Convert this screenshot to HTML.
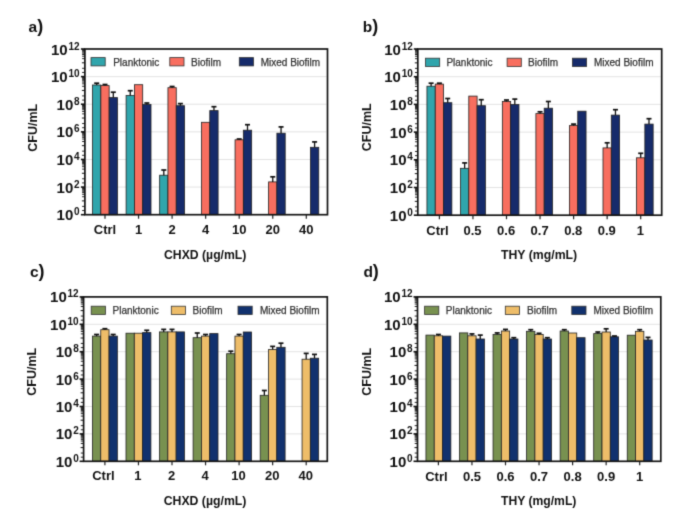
<!DOCTYPE html>
<html><head><meta charset="utf-8"><style>
html,body{margin:0;padding:0;background:#fff;}
svg{display:block;font-family:"Liberation Sans", sans-serif;}
</style></head><body><div id="w">
<svg width="685" height="532" viewBox="0 0 685 532">
<defs><filter id="bl" x="0" y="0" width="685" height="532" filterUnits="userSpaceOnUse" color-interpolation-filters="sRGB"><feConvolveMatrix order="3" kernelMatrix="0.01917 0.10012 0.01917 0.10012 0.52283 0.10012 0.01917 0.10012 0.01917" divisor="1" edgeMode="duplicate" preserveAlpha="true"/></filter></defs>
<g filter="url(#bl)">
<rect width="685" height="532" fill="#fff"/>
<line x1="85.9" y1="187.08" x2="326.5" y2="187.08" stroke="#e3e3e3" stroke-width="1"/>
<line x1="85.9" y1="159.47" x2="326.5" y2="159.47" stroke="#e3e3e3" stroke-width="1"/>
<line x1="85.9" y1="131.85" x2="326.5" y2="131.85" stroke="#e3e3e3" stroke-width="1"/>
<line x1="85.9" y1="104.23" x2="326.5" y2="104.23" stroke="#e3e3e3" stroke-width="1"/>
<line x1="85.9" y1="76.62" x2="326.5" y2="76.62" stroke="#e3e3e3" stroke-width="1"/>
<rect x="92.55" y="85.00" width="8.3" height="129.70" fill="#30a5ac" stroke="#222" stroke-width="0.8"/>
<line x1="96.70" y1="83.20" x2="96.70" y2="85.00" stroke="#111" stroke-width="1.3"/>
<line x1="94.20" y1="83.20" x2="99.20" y2="83.20" stroke="#111" stroke-width="1.7"/>
<rect x="100.85" y="85.60" width="8.3" height="129.10" fill="#f86e5f" stroke="#222" stroke-width="0.8"/>
<line x1="105.00" y1="84.50" x2="105.00" y2="85.60" stroke="#111" stroke-width="1.3"/>
<line x1="102.50" y1="84.50" x2="107.50" y2="84.50" stroke="#111" stroke-width="1.7"/>
<rect x="109.15" y="97.60" width="8.3" height="117.10" fill="#162b6b" stroke="#222" stroke-width="0.8"/>
<line x1="113.30" y1="92.20" x2="113.30" y2="97.60" stroke="#111" stroke-width="1.3"/>
<line x1="110.80" y1="92.20" x2="115.80" y2="92.20" stroke="#111" stroke-width="1.7"/>
<line x1="105.00" y1="214.7" x2="105.00" y2="218.7" stroke="#222" stroke-width="1.2"/>
<text x="105.00" y="233.90" font-size="13" font-weight="bold" text-anchor="middle" fill="#111">Ctrl</text>
<rect x="126.10" y="95.50" width="8.3" height="119.20" fill="#30a5ac" stroke="#222" stroke-width="0.8"/>
<line x1="130.25" y1="90.70" x2="130.25" y2="95.50" stroke="#111" stroke-width="1.3"/>
<line x1="127.75" y1="90.70" x2="132.75" y2="90.70" stroke="#111" stroke-width="1.7"/>
<rect x="134.40" y="84.70" width="8.3" height="130.00" fill="#f86e5f" stroke="#222" stroke-width="0.8"/>
<rect x="142.70" y="104.50" width="8.3" height="110.20" fill="#162b6b" stroke="#222" stroke-width="0.8"/>
<line x1="146.85" y1="103.00" x2="146.85" y2="104.50" stroke="#111" stroke-width="1.3"/>
<line x1="144.35" y1="103.00" x2="149.35" y2="103.00" stroke="#111" stroke-width="1.7"/>
<line x1="138.55" y1="214.7" x2="138.55" y2="218.7" stroke="#222" stroke-width="1.2"/>
<text x="138.55" y="233.90" font-size="13" font-weight="bold" text-anchor="middle" fill="#111">1</text>
<rect x="159.65" y="175.20" width="8.3" height="39.50" fill="#30a5ac" stroke="#222" stroke-width="0.8"/>
<line x1="163.80" y1="170.00" x2="163.80" y2="175.20" stroke="#111" stroke-width="1.3"/>
<line x1="161.30" y1="170.00" x2="166.30" y2="170.00" stroke="#111" stroke-width="1.7"/>
<rect x="167.95" y="87.70" width="8.3" height="127.00" fill="#f86e5f" stroke="#222" stroke-width="0.8"/>
<line x1="172.10" y1="86.50" x2="172.10" y2="87.70" stroke="#111" stroke-width="1.3"/>
<line x1="169.60" y1="86.50" x2="174.60" y2="86.50" stroke="#111" stroke-width="1.7"/>
<rect x="176.25" y="105.70" width="8.3" height="109.00" fill="#162b6b" stroke="#222" stroke-width="0.8"/>
<line x1="180.40" y1="103.60" x2="180.40" y2="105.70" stroke="#111" stroke-width="1.3"/>
<line x1="177.90" y1="103.60" x2="182.90" y2="103.60" stroke="#111" stroke-width="1.7"/>
<line x1="172.10" y1="214.7" x2="172.10" y2="218.7" stroke="#222" stroke-width="1.2"/>
<text x="172.10" y="233.90" font-size="13" font-weight="bold" text-anchor="middle" fill="#111">2</text>
<rect x="201.50" y="122.30" width="8.3" height="92.40" fill="#f86e5f" stroke="#222" stroke-width="0.8"/>
<rect x="209.80" y="110.60" width="8.3" height="104.10" fill="#162b6b" stroke="#222" stroke-width="0.8"/>
<line x1="213.95" y1="106.70" x2="213.95" y2="110.60" stroke="#111" stroke-width="1.3"/>
<line x1="211.45" y1="106.70" x2="216.45" y2="106.70" stroke="#111" stroke-width="1.7"/>
<line x1="205.65" y1="214.7" x2="205.65" y2="218.7" stroke="#222" stroke-width="1.2"/>
<text x="205.65" y="233.90" font-size="13" font-weight="bold" text-anchor="middle" fill="#111">4</text>
<rect x="235.05" y="139.80" width="8.3" height="74.90" fill="#f86e5f" stroke="#222" stroke-width="0.8"/>
<line x1="239.20" y1="139.00" x2="239.20" y2="139.80" stroke="#111" stroke-width="1.3"/>
<line x1="236.70" y1="139.00" x2="241.70" y2="139.00" stroke="#111" stroke-width="1.7"/>
<rect x="243.35" y="130.20" width="8.3" height="84.50" fill="#162b6b" stroke="#222" stroke-width="0.8"/>
<line x1="247.50" y1="124.70" x2="247.50" y2="130.20" stroke="#111" stroke-width="1.3"/>
<line x1="245.00" y1="124.70" x2="250.00" y2="124.70" stroke="#111" stroke-width="1.7"/>
<line x1="239.20" y1="214.7" x2="239.20" y2="218.7" stroke="#222" stroke-width="1.2"/>
<text x="239.20" y="233.90" font-size="13" font-weight="bold" text-anchor="middle" fill="#111">10</text>
<rect x="268.60" y="181.90" width="8.3" height="32.80" fill="#f86e5f" stroke="#222" stroke-width="0.8"/>
<line x1="272.75" y1="176.80" x2="272.75" y2="181.90" stroke="#111" stroke-width="1.3"/>
<line x1="270.25" y1="176.80" x2="275.25" y2="176.80" stroke="#111" stroke-width="1.7"/>
<rect x="276.90" y="133.20" width="8.3" height="81.50" fill="#162b6b" stroke="#222" stroke-width="0.8"/>
<line x1="281.05" y1="126.90" x2="281.05" y2="133.20" stroke="#111" stroke-width="1.3"/>
<line x1="278.55" y1="126.90" x2="283.55" y2="126.90" stroke="#111" stroke-width="1.7"/>
<line x1="272.75" y1="214.7" x2="272.75" y2="218.7" stroke="#222" stroke-width="1.2"/>
<text x="272.75" y="233.90" font-size="13" font-weight="bold" text-anchor="middle" fill="#111">20</text>
<rect x="310.45" y="147.30" width="8.3" height="67.40" fill="#162b6b" stroke="#222" stroke-width="0.8"/>
<line x1="314.60" y1="141.90" x2="314.60" y2="147.30" stroke="#111" stroke-width="1.3"/>
<line x1="312.10" y1="141.90" x2="317.10" y2="141.90" stroke="#111" stroke-width="1.7"/>
<line x1="306.30" y1="214.7" x2="306.30" y2="218.7" stroke="#222" stroke-width="1.2"/>
<text x="306.30" y="233.90" font-size="13" font-weight="bold" text-anchor="middle" fill="#111">40</text>
<rect x="84.9" y="49" width="242.6" height="165.7" fill="none" stroke="#151515" stroke-width="1.7"/>
<line x1="80.9" y1="214.70" x2="84.9" y2="214.70" stroke="#111" stroke-width="1.6"/>
<line x1="82.10000000000001" y1="210.54" x2="84.9" y2="210.54" stroke="#111" stroke-width="0.9"/>
<line x1="82.10000000000001" y1="206.39" x2="84.9" y2="206.39" stroke="#111" stroke-width="0.9"/>
<line x1="81.9" y1="200.89" x2="84.9" y2="200.89" stroke="#111" stroke-width="1"/>
<line x1="82.10000000000001" y1="196.73" x2="84.9" y2="196.73" stroke="#111" stroke-width="0.9"/>
<line x1="82.10000000000001" y1="194.30" x2="84.9" y2="194.30" stroke="#111" stroke-width="0.9"/>
<line x1="82.10000000000001" y1="192.58" x2="84.9" y2="192.58" stroke="#111" stroke-width="0.9"/>
<line x1="82.10000000000001" y1="191.24" x2="84.9" y2="191.24" stroke="#111" stroke-width="0.9"/>
<line x1="82.10000000000001" y1="190.15" x2="84.9" y2="190.15" stroke="#111" stroke-width="0.9"/>
<line x1="82.10000000000001" y1="189.22" x2="84.9" y2="189.22" stroke="#111" stroke-width="0.9"/>
<line x1="82.10000000000001" y1="188.42" x2="84.9" y2="188.42" stroke="#111" stroke-width="0.9"/>
<line x1="82.10000000000001" y1="187.72" x2="84.9" y2="187.72" stroke="#111" stroke-width="0.9"/>
<line x1="80.9" y1="187.08" x2="84.9" y2="187.08" stroke="#111" stroke-width="1.6"/>
<line x1="82.10000000000001" y1="182.93" x2="84.9" y2="182.93" stroke="#111" stroke-width="0.9"/>
<line x1="82.10000000000001" y1="178.77" x2="84.9" y2="178.77" stroke="#111" stroke-width="0.9"/>
<line x1="81.9" y1="173.27" x2="84.9" y2="173.27" stroke="#111" stroke-width="1"/>
<line x1="82.10000000000001" y1="169.12" x2="84.9" y2="169.12" stroke="#111" stroke-width="0.9"/>
<line x1="82.10000000000001" y1="166.69" x2="84.9" y2="166.69" stroke="#111" stroke-width="0.9"/>
<line x1="82.10000000000001" y1="164.96" x2="84.9" y2="164.96" stroke="#111" stroke-width="0.9"/>
<line x1="82.10000000000001" y1="163.62" x2="84.9" y2="163.62" stroke="#111" stroke-width="0.9"/>
<line x1="82.10000000000001" y1="162.53" x2="84.9" y2="162.53" stroke="#111" stroke-width="0.9"/>
<line x1="82.10000000000001" y1="161.61" x2="84.9" y2="161.61" stroke="#111" stroke-width="0.9"/>
<line x1="82.10000000000001" y1="160.80" x2="84.9" y2="160.80" stroke="#111" stroke-width="0.9"/>
<line x1="82.10000000000001" y1="160.10" x2="84.9" y2="160.10" stroke="#111" stroke-width="0.9"/>
<line x1="80.9" y1="159.47" x2="84.9" y2="159.47" stroke="#111" stroke-width="1.6"/>
<line x1="82.10000000000001" y1="155.31" x2="84.9" y2="155.31" stroke="#111" stroke-width="0.9"/>
<line x1="82.10000000000001" y1="151.15" x2="84.9" y2="151.15" stroke="#111" stroke-width="0.9"/>
<line x1="81.9" y1="145.66" x2="84.9" y2="145.66" stroke="#111" stroke-width="1"/>
<line x1="82.10000000000001" y1="141.50" x2="84.9" y2="141.50" stroke="#111" stroke-width="0.9"/>
<line x1="82.10000000000001" y1="139.07" x2="84.9" y2="139.07" stroke="#111" stroke-width="0.9"/>
<line x1="82.10000000000001" y1="137.34" x2="84.9" y2="137.34" stroke="#111" stroke-width="0.9"/>
<line x1="82.10000000000001" y1="136.01" x2="84.9" y2="136.01" stroke="#111" stroke-width="0.9"/>
<line x1="82.10000000000001" y1="134.91" x2="84.9" y2="134.91" stroke="#111" stroke-width="0.9"/>
<line x1="82.10000000000001" y1="133.99" x2="84.9" y2="133.99" stroke="#111" stroke-width="0.9"/>
<line x1="82.10000000000001" y1="133.19" x2="84.9" y2="133.19" stroke="#111" stroke-width="0.9"/>
<line x1="82.10000000000001" y1="132.48" x2="84.9" y2="132.48" stroke="#111" stroke-width="0.9"/>
<line x1="80.9" y1="131.85" x2="84.9" y2="131.85" stroke="#111" stroke-width="1.6"/>
<line x1="82.10000000000001" y1="127.69" x2="84.9" y2="127.69" stroke="#111" stroke-width="0.9"/>
<line x1="82.10000000000001" y1="123.54" x2="84.9" y2="123.54" stroke="#111" stroke-width="0.9"/>
<line x1="81.9" y1="118.04" x2="84.9" y2="118.04" stroke="#111" stroke-width="1"/>
<line x1="82.10000000000001" y1="113.88" x2="84.9" y2="113.88" stroke="#111" stroke-width="0.9"/>
<line x1="82.10000000000001" y1="111.45" x2="84.9" y2="111.45" stroke="#111" stroke-width="0.9"/>
<line x1="82.10000000000001" y1="109.73" x2="84.9" y2="109.73" stroke="#111" stroke-width="0.9"/>
<line x1="82.10000000000001" y1="108.39" x2="84.9" y2="108.39" stroke="#111" stroke-width="0.9"/>
<line x1="82.10000000000001" y1="107.30" x2="84.9" y2="107.30" stroke="#111" stroke-width="0.9"/>
<line x1="82.10000000000001" y1="106.37" x2="84.9" y2="106.37" stroke="#111" stroke-width="0.9"/>
<line x1="82.10000000000001" y1="105.57" x2="84.9" y2="105.57" stroke="#111" stroke-width="0.9"/>
<line x1="82.10000000000001" y1="104.87" x2="84.9" y2="104.87" stroke="#111" stroke-width="0.9"/>
<line x1="80.9" y1="104.23" x2="84.9" y2="104.23" stroke="#111" stroke-width="1.6"/>
<line x1="82.10000000000001" y1="100.08" x2="84.9" y2="100.08" stroke="#111" stroke-width="0.9"/>
<line x1="82.10000000000001" y1="95.92" x2="84.9" y2="95.92" stroke="#111" stroke-width="0.9"/>
<line x1="81.9" y1="90.42" x2="84.9" y2="90.42" stroke="#111" stroke-width="1"/>
<line x1="82.10000000000001" y1="86.27" x2="84.9" y2="86.27" stroke="#111" stroke-width="0.9"/>
<line x1="82.10000000000001" y1="83.84" x2="84.9" y2="83.84" stroke="#111" stroke-width="0.9"/>
<line x1="82.10000000000001" y1="82.11" x2="84.9" y2="82.11" stroke="#111" stroke-width="0.9"/>
<line x1="82.10000000000001" y1="80.77" x2="84.9" y2="80.77" stroke="#111" stroke-width="0.9"/>
<line x1="82.10000000000001" y1="79.68" x2="84.9" y2="79.68" stroke="#111" stroke-width="0.9"/>
<line x1="82.10000000000001" y1="78.76" x2="84.9" y2="78.76" stroke="#111" stroke-width="0.9"/>
<line x1="82.10000000000001" y1="77.95" x2="84.9" y2="77.95" stroke="#111" stroke-width="0.9"/>
<line x1="82.10000000000001" y1="77.25" x2="84.9" y2="77.25" stroke="#111" stroke-width="0.9"/>
<line x1="80.9" y1="76.62" x2="84.9" y2="76.62" stroke="#111" stroke-width="1.6"/>
<line x1="82.10000000000001" y1="72.46" x2="84.9" y2="72.46" stroke="#111" stroke-width="0.9"/>
<line x1="82.10000000000001" y1="68.30" x2="84.9" y2="68.30" stroke="#111" stroke-width="0.9"/>
<line x1="81.9" y1="62.81" x2="84.9" y2="62.81" stroke="#111" stroke-width="1"/>
<line x1="82.10000000000001" y1="58.65" x2="84.9" y2="58.65" stroke="#111" stroke-width="0.9"/>
<line x1="82.10000000000001" y1="56.22" x2="84.9" y2="56.22" stroke="#111" stroke-width="0.9"/>
<line x1="82.10000000000001" y1="54.49" x2="84.9" y2="54.49" stroke="#111" stroke-width="0.9"/>
<line x1="82.10000000000001" y1="53.16" x2="84.9" y2="53.16" stroke="#111" stroke-width="0.9"/>
<line x1="82.10000000000001" y1="52.06" x2="84.9" y2="52.06" stroke="#111" stroke-width="0.9"/>
<line x1="82.10000000000001" y1="51.14" x2="84.9" y2="51.14" stroke="#111" stroke-width="0.9"/>
<line x1="82.10000000000001" y1="50.34" x2="84.9" y2="50.34" stroke="#111" stroke-width="0.9"/>
<line x1="82.10000000000001" y1="49.63" x2="84.9" y2="49.63" stroke="#111" stroke-width="0.9"/>
<line x1="80.9" y1="49.00" x2="84.9" y2="49.00" stroke="#111" stroke-width="1.6"/>
<text x="79.60000000000001" y="220.20" font-size="15" font-weight="bold" text-anchor="end" fill="#111">10<tspan dx="0.8" dy="-5.0" font-size="10">0</tspan></text>
<text x="79.60000000000001" y="192.58" font-size="15" font-weight="bold" text-anchor="end" fill="#111">10<tspan dx="0.8" dy="-5.0" font-size="10">2</tspan></text>
<text x="79.60000000000001" y="164.97" font-size="15" font-weight="bold" text-anchor="end" fill="#111">10<tspan dx="0.8" dy="-5.0" font-size="10">4</tspan></text>
<text x="79.60000000000001" y="137.35" font-size="15" font-weight="bold" text-anchor="end" fill="#111">10<tspan dx="0.8" dy="-5.0" font-size="10">6</tspan></text>
<text x="79.60000000000001" y="109.73" font-size="15" font-weight="bold" text-anchor="end" fill="#111">10<tspan dx="0.8" dy="-5.0" font-size="10">8</tspan></text>
<text x="79.60000000000001" y="82.12" font-size="15" font-weight="bold" text-anchor="end" fill="#111">10<tspan dx="0.8" dy="-5.0" font-size="10">10</tspan></text>
<text x="79.60000000000001" y="54.50" font-size="15" font-weight="bold" text-anchor="end" fill="#111">10<tspan dx="0.8" dy="-5.0" font-size="10">12</tspan></text>
<rect x="91" y="57.6" width="14.2" height="8.3" fill="#30a5ac" stroke="#333" stroke-width="0.8"/>
<text x="113.2" y="65.80" font-size="10" fill="#333" stroke="#333" stroke-width="0.25">Planktonic</text>
<rect x="169.8" y="57.6" width="14.2" height="8.3" fill="#f86e5f" stroke="#333" stroke-width="0.8"/>
<text x="191" y="65.80" font-size="10" fill="#333" stroke="#333" stroke-width="0.25">Biofilm</text>
<rect x="239.3" y="57.6" width="14.2" height="8.3" fill="#162b6b" stroke="#333" stroke-width="0.8"/>
<text x="260.7" y="65.80" font-size="10" fill="#333" stroke="#333" stroke-width="0.25">Mixed Biofilm</text>
<text x="28.5" y="31.5" font-size="15.5" font-weight="bold" fill="#111">a<tspan font-size="18" dy="0">)</tspan></text>
<text x="164" y="258.7" font-size="12.5" font-weight="bold" fill="#111" textLength="82.4" lengthAdjust="spacingAndGlyphs">CHXD (µg/mL)</text>
<text transform="translate(36.8,127.7) rotate(-90)" font-size="12.5" font-weight="bold" text-anchor="middle" fill="#111">CFU/mL</text>
<line x1="418.8" y1="187.50" x2="660.7" y2="187.50" stroke="#e3e3e3" stroke-width="1"/>
<line x1="418.8" y1="159.80" x2="660.7" y2="159.80" stroke="#e3e3e3" stroke-width="1"/>
<line x1="418.8" y1="132.10" x2="660.7" y2="132.10" stroke="#e3e3e3" stroke-width="1"/>
<line x1="418.8" y1="104.40" x2="660.7" y2="104.40" stroke="#e3e3e3" stroke-width="1"/>
<line x1="418.8" y1="76.70" x2="660.7" y2="76.70" stroke="#e3e3e3" stroke-width="1"/>
<rect x="426.95" y="86.20" width="8.3" height="129.00" fill="#30a5ac" stroke="#222" stroke-width="0.8"/>
<line x1="431.10" y1="83.20" x2="431.10" y2="86.20" stroke="#111" stroke-width="1.3"/>
<line x1="428.60" y1="83.20" x2="433.60" y2="83.20" stroke="#111" stroke-width="1.7"/>
<rect x="435.25" y="84.10" width="8.3" height="131.10" fill="#f86e5f" stroke="#222" stroke-width="0.8"/>
<line x1="439.40" y1="83.20" x2="439.40" y2="84.10" stroke="#111" stroke-width="1.3"/>
<line x1="436.90" y1="83.20" x2="441.90" y2="83.20" stroke="#111" stroke-width="1.7"/>
<rect x="443.55" y="102.70" width="8.3" height="112.50" fill="#162b6b" stroke="#222" stroke-width="0.8"/>
<line x1="447.70" y1="98.50" x2="447.70" y2="102.70" stroke="#111" stroke-width="1.3"/>
<line x1="445.20" y1="98.50" x2="450.20" y2="98.50" stroke="#111" stroke-width="1.7"/>
<line x1="439.40" y1="215.2" x2="439.40" y2="219.2" stroke="#222" stroke-width="1.2"/>
<text x="437.50" y="234.50" font-size="13" font-weight="bold" text-anchor="middle" fill="#111">Ctrl</text>
<rect x="460.50" y="168.30" width="8.3" height="46.90" fill="#30a5ac" stroke="#222" stroke-width="0.8"/>
<line x1="464.65" y1="162.90" x2="464.65" y2="168.30" stroke="#111" stroke-width="1.3"/>
<line x1="462.15" y1="162.90" x2="467.15" y2="162.90" stroke="#111" stroke-width="1.7"/>
<rect x="468.80" y="96.10" width="8.3" height="119.10" fill="#f86e5f" stroke="#222" stroke-width="0.8"/>
<rect x="477.10" y="105.70" width="8.3" height="109.50" fill="#162b6b" stroke="#222" stroke-width="0.8"/>
<line x1="481.25" y1="99.70" x2="481.25" y2="105.70" stroke="#111" stroke-width="1.3"/>
<line x1="478.75" y1="99.70" x2="483.75" y2="99.70" stroke="#111" stroke-width="1.7"/>
<line x1="472.95" y1="215.2" x2="472.95" y2="219.2" stroke="#222" stroke-width="1.2"/>
<text x="472.55" y="234.50" font-size="13" font-weight="bold" text-anchor="middle" fill="#111">0.5</text>
<rect x="502.35" y="101.50" width="8.3" height="113.70" fill="#f86e5f" stroke="#222" stroke-width="0.8"/>
<line x1="506.50" y1="100.00" x2="506.50" y2="101.50" stroke="#111" stroke-width="1.3"/>
<line x1="504.00" y1="100.00" x2="509.00" y2="100.00" stroke="#111" stroke-width="1.7"/>
<rect x="510.65" y="104.50" width="8.3" height="110.70" fill="#162b6b" stroke="#222" stroke-width="0.8"/>
<line x1="514.80" y1="99.10" x2="514.80" y2="104.50" stroke="#111" stroke-width="1.3"/>
<line x1="512.30" y1="99.10" x2="517.30" y2="99.10" stroke="#111" stroke-width="1.7"/>
<line x1="506.50" y1="215.2" x2="506.50" y2="219.2" stroke="#222" stroke-width="1.2"/>
<text x="506.10" y="234.50" font-size="13" font-weight="bold" text-anchor="middle" fill="#111">0.6</text>
<rect x="535.90" y="113.60" width="8.3" height="101.60" fill="#f86e5f" stroke="#222" stroke-width="0.8"/>
<line x1="540.05" y1="111.80" x2="540.05" y2="113.60" stroke="#111" stroke-width="1.3"/>
<line x1="537.55" y1="111.80" x2="542.55" y2="111.80" stroke="#111" stroke-width="1.7"/>
<rect x="544.20" y="108.20" width="8.3" height="107.00" fill="#162b6b" stroke="#222" stroke-width="0.8"/>
<line x1="548.35" y1="101.50" x2="548.35" y2="108.20" stroke="#111" stroke-width="1.3"/>
<line x1="545.85" y1="101.50" x2="550.85" y2="101.50" stroke="#111" stroke-width="1.7"/>
<line x1="540.05" y1="215.2" x2="540.05" y2="219.2" stroke="#222" stroke-width="1.2"/>
<text x="539.65" y="234.50" font-size="13" font-weight="bold" text-anchor="middle" fill="#111">0.7</text>
<rect x="569.45" y="125.60" width="8.3" height="89.60" fill="#f86e5f" stroke="#222" stroke-width="0.8"/>
<line x1="573.60" y1="124.10" x2="573.60" y2="125.60" stroke="#111" stroke-width="1.3"/>
<line x1="571.10" y1="124.10" x2="576.10" y2="124.10" stroke="#111" stroke-width="1.7"/>
<rect x="577.75" y="111.20" width="8.3" height="104.00" fill="#162b6b" stroke="#222" stroke-width="0.8"/>
<line x1="573.60" y1="215.2" x2="573.60" y2="219.2" stroke="#222" stroke-width="1.2"/>
<text x="573.20" y="234.50" font-size="13" font-weight="bold" text-anchor="middle" fill="#111">0.8</text>
<rect x="603.00" y="147.90" width="8.3" height="67.30" fill="#f86e5f" stroke="#222" stroke-width="0.8"/>
<line x1="607.15" y1="142.80" x2="607.15" y2="147.90" stroke="#111" stroke-width="1.3"/>
<line x1="604.65" y1="142.80" x2="609.65" y2="142.80" stroke="#111" stroke-width="1.7"/>
<rect x="611.30" y="115.10" width="8.3" height="100.10" fill="#162b6b" stroke="#222" stroke-width="0.8"/>
<line x1="615.45" y1="109.70" x2="615.45" y2="115.10" stroke="#111" stroke-width="1.3"/>
<line x1="612.95" y1="109.70" x2="617.95" y2="109.70" stroke="#111" stroke-width="1.7"/>
<line x1="607.15" y1="215.2" x2="607.15" y2="219.2" stroke="#222" stroke-width="1.2"/>
<text x="606.75" y="234.50" font-size="13" font-weight="bold" text-anchor="middle" fill="#111">0.9</text>
<rect x="636.55" y="157.80" width="8.3" height="57.40" fill="#f86e5f" stroke="#222" stroke-width="0.8"/>
<line x1="640.70" y1="153.30" x2="640.70" y2="157.80" stroke="#111" stroke-width="1.3"/>
<line x1="638.20" y1="153.30" x2="643.20" y2="153.30" stroke="#111" stroke-width="1.7"/>
<rect x="644.85" y="124.10" width="8.3" height="91.10" fill="#162b6b" stroke="#222" stroke-width="0.8"/>
<line x1="649.00" y1="118.70" x2="649.00" y2="124.10" stroke="#111" stroke-width="1.3"/>
<line x1="646.50" y1="118.70" x2="651.50" y2="118.70" stroke="#111" stroke-width="1.7"/>
<line x1="640.70" y1="215.2" x2="640.70" y2="219.2" stroke="#222" stroke-width="1.2"/>
<text x="640.30" y="234.50" font-size="13" font-weight="bold" text-anchor="middle" fill="#111">1</text>
<rect x="417.8" y="49" width="243.90000000000003" height="166.2" fill="none" stroke="#151515" stroke-width="1.7"/>
<line x1="413.8" y1="215.20" x2="417.8" y2="215.20" stroke="#111" stroke-width="1.6"/>
<line x1="415.0" y1="211.03" x2="417.8" y2="211.03" stroke="#111" stroke-width="0.9"/>
<line x1="415.0" y1="206.86" x2="417.8" y2="206.86" stroke="#111" stroke-width="0.9"/>
<line x1="414.8" y1="201.35" x2="417.8" y2="201.35" stroke="#111" stroke-width="1"/>
<line x1="415.0" y1="197.18" x2="417.8" y2="197.18" stroke="#111" stroke-width="0.9"/>
<line x1="415.0" y1="194.74" x2="417.8" y2="194.74" stroke="#111" stroke-width="0.9"/>
<line x1="415.0" y1="193.01" x2="417.8" y2="193.01" stroke="#111" stroke-width="0.9"/>
<line x1="415.0" y1="191.67" x2="417.8" y2="191.67" stroke="#111" stroke-width="0.9"/>
<line x1="415.0" y1="190.57" x2="417.8" y2="190.57" stroke="#111" stroke-width="0.9"/>
<line x1="415.0" y1="189.65" x2="417.8" y2="189.65" stroke="#111" stroke-width="0.9"/>
<line x1="415.0" y1="188.84" x2="417.8" y2="188.84" stroke="#111" stroke-width="0.9"/>
<line x1="415.0" y1="188.13" x2="417.8" y2="188.13" stroke="#111" stroke-width="0.9"/>
<line x1="413.8" y1="187.50" x2="417.8" y2="187.50" stroke="#111" stroke-width="1.6"/>
<line x1="415.0" y1="183.33" x2="417.8" y2="183.33" stroke="#111" stroke-width="0.9"/>
<line x1="415.0" y1="179.16" x2="417.8" y2="179.16" stroke="#111" stroke-width="0.9"/>
<line x1="414.8" y1="173.65" x2="417.8" y2="173.65" stroke="#111" stroke-width="1"/>
<line x1="415.0" y1="169.48" x2="417.8" y2="169.48" stroke="#111" stroke-width="0.9"/>
<line x1="415.0" y1="167.04" x2="417.8" y2="167.04" stroke="#111" stroke-width="0.9"/>
<line x1="415.0" y1="165.31" x2="417.8" y2="165.31" stroke="#111" stroke-width="0.9"/>
<line x1="415.0" y1="163.97" x2="417.8" y2="163.97" stroke="#111" stroke-width="0.9"/>
<line x1="415.0" y1="162.87" x2="417.8" y2="162.87" stroke="#111" stroke-width="0.9"/>
<line x1="415.0" y1="161.95" x2="417.8" y2="161.95" stroke="#111" stroke-width="0.9"/>
<line x1="415.0" y1="161.14" x2="417.8" y2="161.14" stroke="#111" stroke-width="0.9"/>
<line x1="415.0" y1="160.43" x2="417.8" y2="160.43" stroke="#111" stroke-width="0.9"/>
<line x1="413.8" y1="159.80" x2="417.8" y2="159.80" stroke="#111" stroke-width="1.6"/>
<line x1="415.0" y1="155.63" x2="417.8" y2="155.63" stroke="#111" stroke-width="0.9"/>
<line x1="415.0" y1="151.46" x2="417.8" y2="151.46" stroke="#111" stroke-width="0.9"/>
<line x1="414.8" y1="145.95" x2="417.8" y2="145.95" stroke="#111" stroke-width="1"/>
<line x1="415.0" y1="141.78" x2="417.8" y2="141.78" stroke="#111" stroke-width="0.9"/>
<line x1="415.0" y1="139.34" x2="417.8" y2="139.34" stroke="#111" stroke-width="0.9"/>
<line x1="415.0" y1="137.61" x2="417.8" y2="137.61" stroke="#111" stroke-width="0.9"/>
<line x1="415.0" y1="136.27" x2="417.8" y2="136.27" stroke="#111" stroke-width="0.9"/>
<line x1="415.0" y1="135.17" x2="417.8" y2="135.17" stroke="#111" stroke-width="0.9"/>
<line x1="415.0" y1="134.25" x2="417.8" y2="134.25" stroke="#111" stroke-width="0.9"/>
<line x1="415.0" y1="133.44" x2="417.8" y2="133.44" stroke="#111" stroke-width="0.9"/>
<line x1="415.0" y1="132.73" x2="417.8" y2="132.73" stroke="#111" stroke-width="0.9"/>
<line x1="413.8" y1="132.10" x2="417.8" y2="132.10" stroke="#111" stroke-width="1.6"/>
<line x1="415.0" y1="127.93" x2="417.8" y2="127.93" stroke="#111" stroke-width="0.9"/>
<line x1="415.0" y1="123.76" x2="417.8" y2="123.76" stroke="#111" stroke-width="0.9"/>
<line x1="414.8" y1="118.25" x2="417.8" y2="118.25" stroke="#111" stroke-width="1"/>
<line x1="415.0" y1="114.08" x2="417.8" y2="114.08" stroke="#111" stroke-width="0.9"/>
<line x1="415.0" y1="111.64" x2="417.8" y2="111.64" stroke="#111" stroke-width="0.9"/>
<line x1="415.0" y1="109.91" x2="417.8" y2="109.91" stroke="#111" stroke-width="0.9"/>
<line x1="415.0" y1="108.57" x2="417.8" y2="108.57" stroke="#111" stroke-width="0.9"/>
<line x1="415.0" y1="107.47" x2="417.8" y2="107.47" stroke="#111" stroke-width="0.9"/>
<line x1="415.0" y1="106.55" x2="417.8" y2="106.55" stroke="#111" stroke-width="0.9"/>
<line x1="415.0" y1="105.74" x2="417.8" y2="105.74" stroke="#111" stroke-width="0.9"/>
<line x1="415.0" y1="105.03" x2="417.8" y2="105.03" stroke="#111" stroke-width="0.9"/>
<line x1="413.8" y1="104.40" x2="417.8" y2="104.40" stroke="#111" stroke-width="1.6"/>
<line x1="415.0" y1="100.23" x2="417.8" y2="100.23" stroke="#111" stroke-width="0.9"/>
<line x1="415.0" y1="96.06" x2="417.8" y2="96.06" stroke="#111" stroke-width="0.9"/>
<line x1="414.8" y1="90.55" x2="417.8" y2="90.55" stroke="#111" stroke-width="1"/>
<line x1="415.0" y1="86.38" x2="417.8" y2="86.38" stroke="#111" stroke-width="0.9"/>
<line x1="415.0" y1="83.94" x2="417.8" y2="83.94" stroke="#111" stroke-width="0.9"/>
<line x1="415.0" y1="82.21" x2="417.8" y2="82.21" stroke="#111" stroke-width="0.9"/>
<line x1="415.0" y1="80.87" x2="417.8" y2="80.87" stroke="#111" stroke-width="0.9"/>
<line x1="415.0" y1="79.77" x2="417.8" y2="79.77" stroke="#111" stroke-width="0.9"/>
<line x1="415.0" y1="78.85" x2="417.8" y2="78.85" stroke="#111" stroke-width="0.9"/>
<line x1="415.0" y1="78.04" x2="417.8" y2="78.04" stroke="#111" stroke-width="0.9"/>
<line x1="415.0" y1="77.33" x2="417.8" y2="77.33" stroke="#111" stroke-width="0.9"/>
<line x1="413.8" y1="76.70" x2="417.8" y2="76.70" stroke="#111" stroke-width="1.6"/>
<line x1="415.0" y1="72.53" x2="417.8" y2="72.53" stroke="#111" stroke-width="0.9"/>
<line x1="415.0" y1="68.36" x2="417.8" y2="68.36" stroke="#111" stroke-width="0.9"/>
<line x1="414.8" y1="62.85" x2="417.8" y2="62.85" stroke="#111" stroke-width="1"/>
<line x1="415.0" y1="58.68" x2="417.8" y2="58.68" stroke="#111" stroke-width="0.9"/>
<line x1="415.0" y1="56.24" x2="417.8" y2="56.24" stroke="#111" stroke-width="0.9"/>
<line x1="415.0" y1="54.51" x2="417.8" y2="54.51" stroke="#111" stroke-width="0.9"/>
<line x1="415.0" y1="53.17" x2="417.8" y2="53.17" stroke="#111" stroke-width="0.9"/>
<line x1="415.0" y1="52.07" x2="417.8" y2="52.07" stroke="#111" stroke-width="0.9"/>
<line x1="415.0" y1="51.15" x2="417.8" y2="51.15" stroke="#111" stroke-width="0.9"/>
<line x1="415.0" y1="50.34" x2="417.8" y2="50.34" stroke="#111" stroke-width="0.9"/>
<line x1="415.0" y1="49.63" x2="417.8" y2="49.63" stroke="#111" stroke-width="0.9"/>
<line x1="413.8" y1="49.00" x2="417.8" y2="49.00" stroke="#111" stroke-width="1.6"/>
<text x="412.90000000000003" y="220.70" font-size="15" font-weight="bold" text-anchor="end" fill="#111">10<tspan dx="0.8" dy="-5.0" font-size="10">0</tspan></text>
<text x="412.90000000000003" y="193.00" font-size="15" font-weight="bold" text-anchor="end" fill="#111">10<tspan dx="0.8" dy="-5.0" font-size="10">2</tspan></text>
<text x="412.90000000000003" y="165.30" font-size="15" font-weight="bold" text-anchor="end" fill="#111">10<tspan dx="0.8" dy="-5.0" font-size="10">4</tspan></text>
<text x="412.90000000000003" y="137.60" font-size="15" font-weight="bold" text-anchor="end" fill="#111">10<tspan dx="0.8" dy="-5.0" font-size="10">6</tspan></text>
<text x="412.90000000000003" y="109.90" font-size="15" font-weight="bold" text-anchor="end" fill="#111">10<tspan dx="0.8" dy="-5.0" font-size="10">8</tspan></text>
<text x="412.90000000000003" y="82.20" font-size="15" font-weight="bold" text-anchor="end" fill="#111">10<tspan dx="0.8" dy="-5.0" font-size="10">10</tspan></text>
<text x="412.90000000000003" y="54.50" font-size="15" font-weight="bold" text-anchor="end" fill="#111">10<tspan dx="0.8" dy="-5.0" font-size="10">12</tspan></text>
<rect x="425.5" y="58.2" width="14.2" height="8.3" fill="#30a5ac" stroke="#333" stroke-width="0.8"/>
<text x="446.4" y="66.40" font-size="10" fill="#333" stroke="#333" stroke-width="0.25">Planktonic</text>
<rect x="507.1" y="58.2" width="14.2" height="8.3" fill="#f86e5f" stroke="#333" stroke-width="0.8"/>
<text x="528" y="66.40" font-size="10" fill="#333" stroke="#333" stroke-width="0.25">Biofilm</text>
<rect x="572.4" y="58.2" width="14.2" height="8.3" fill="#162b6b" stroke="#333" stroke-width="0.8"/>
<text x="594" y="66.40" font-size="10" fill="#333" stroke="#333" stroke-width="0.25">Mixed Biofilm</text>
<text x="362.8" y="31.5" font-size="15.5" font-weight="bold" fill="#111">b<tspan font-size="18" dy="0">)</tspan></text>
<text x="501" y="259.2" font-size="12.5" font-weight="bold" fill="#111" textLength="76.2" lengthAdjust="spacingAndGlyphs">THY (mg/mL)</text>
<text transform="translate(370.5,127.3) rotate(-90)" font-size="12.5" font-weight="bold" text-anchor="middle" fill="#111">CFU/mL</text>
<line x1="84.6" y1="433.90" x2="326.3" y2="433.90" stroke="#e3e3e3" stroke-width="1"/>
<line x1="84.6" y1="406.50" x2="326.3" y2="406.50" stroke="#e3e3e3" stroke-width="1"/>
<line x1="84.6" y1="379.10" x2="326.3" y2="379.10" stroke="#e3e3e3" stroke-width="1"/>
<line x1="84.6" y1="351.70" x2="326.3" y2="351.70" stroke="#e3e3e3" stroke-width="1"/>
<line x1="84.6" y1="324.30" x2="326.3" y2="324.30" stroke="#e3e3e3" stroke-width="1"/>
<rect x="92.45" y="336.10" width="8.3" height="125.20" fill="#789150" stroke="#222" stroke-width="0.8"/>
<line x1="96.60" y1="334.50" x2="96.60" y2="336.10" stroke="#111" stroke-width="1.3"/>
<line x1="94.10" y1="334.50" x2="99.10" y2="334.50" stroke="#111" stroke-width="1.7"/>
<rect x="100.75" y="329.70" width="8.3" height="131.60" fill="#eebd69" stroke="#222" stroke-width="0.8"/>
<line x1="104.90" y1="328.70" x2="104.90" y2="329.70" stroke="#111" stroke-width="1.3"/>
<line x1="102.40" y1="328.70" x2="107.40" y2="328.70" stroke="#111" stroke-width="1.7"/>
<rect x="109.05" y="336.10" width="8.3" height="125.20" fill="#11316e" stroke="#222" stroke-width="0.8"/>
<line x1="113.20" y1="334.50" x2="113.20" y2="336.10" stroke="#111" stroke-width="1.3"/>
<line x1="110.70" y1="334.50" x2="115.70" y2="334.50" stroke="#111" stroke-width="1.7"/>
<line x1="104.90" y1="461.3" x2="104.90" y2="465.3" stroke="#222" stroke-width="1.2"/>
<text x="103.40" y="480.00" font-size="13" font-weight="bold" text-anchor="middle" fill="#111">Ctrl</text>
<rect x="126.00" y="333.20" width="8.3" height="128.10" fill="#789150" stroke="#222" stroke-width="0.8"/>
<rect x="134.30" y="333.20" width="8.3" height="128.10" fill="#eebd69" stroke="#222" stroke-width="0.8"/>
<rect x="142.60" y="332.60" width="8.3" height="128.70" fill="#11316e" stroke="#222" stroke-width="0.8"/>
<line x1="146.75" y1="330.30" x2="146.75" y2="332.60" stroke="#111" stroke-width="1.3"/>
<line x1="144.25" y1="330.30" x2="149.25" y2="330.30" stroke="#111" stroke-width="1.7"/>
<line x1="138.45" y1="461.3" x2="138.45" y2="465.3" stroke="#222" stroke-width="1.2"/>
<text x="137.95" y="480.00" font-size="13" font-weight="bold" text-anchor="middle" fill="#111">1</text>
<rect x="159.55" y="331.90" width="8.3" height="129.40" fill="#789150" stroke="#222" stroke-width="0.8"/>
<line x1="163.70" y1="329.40" x2="163.70" y2="331.90" stroke="#111" stroke-width="1.3"/>
<line x1="161.20" y1="329.40" x2="166.20" y2="329.40" stroke="#111" stroke-width="1.7"/>
<rect x="167.85" y="331.90" width="8.3" height="129.40" fill="#eebd69" stroke="#222" stroke-width="0.8"/>
<line x1="172.00" y1="329.40" x2="172.00" y2="331.90" stroke="#111" stroke-width="1.3"/>
<line x1="169.50" y1="329.40" x2="174.50" y2="329.40" stroke="#111" stroke-width="1.7"/>
<rect x="176.15" y="331.90" width="8.3" height="129.40" fill="#11316e" stroke="#222" stroke-width="0.8"/>
<line x1="172.00" y1="461.3" x2="172.00" y2="465.3" stroke="#222" stroke-width="1.2"/>
<text x="171.50" y="480.00" font-size="13" font-weight="bold" text-anchor="middle" fill="#111">2</text>
<rect x="193.10" y="337.70" width="8.3" height="123.60" fill="#789150" stroke="#222" stroke-width="0.8"/>
<line x1="197.25" y1="333.00" x2="197.25" y2="337.70" stroke="#111" stroke-width="1.3"/>
<line x1="194.75" y1="333.00" x2="199.75" y2="333.00" stroke="#111" stroke-width="1.7"/>
<rect x="201.40" y="336.10" width="8.3" height="125.20" fill="#eebd69" stroke="#222" stroke-width="0.8"/>
<line x1="205.55" y1="334.50" x2="205.55" y2="336.10" stroke="#111" stroke-width="1.3"/>
<line x1="203.05" y1="334.50" x2="208.05" y2="334.50" stroke="#111" stroke-width="1.7"/>
<rect x="209.70" y="333.60" width="8.3" height="127.70" fill="#11316e" stroke="#222" stroke-width="0.8"/>
<line x1="205.55" y1="461.3" x2="205.55" y2="465.3" stroke="#222" stroke-width="1.2"/>
<text x="205.05" y="480.00" font-size="13" font-weight="bold" text-anchor="middle" fill="#111">4</text>
<rect x="226.65" y="353.70" width="8.3" height="107.60" fill="#789150" stroke="#222" stroke-width="0.8"/>
<line x1="230.80" y1="351.20" x2="230.80" y2="353.70" stroke="#111" stroke-width="1.3"/>
<line x1="228.30" y1="351.20" x2="233.30" y2="351.20" stroke="#111" stroke-width="1.7"/>
<rect x="234.95" y="336.10" width="8.3" height="125.20" fill="#eebd69" stroke="#222" stroke-width="0.8"/>
<line x1="239.10" y1="334.50" x2="239.10" y2="336.10" stroke="#111" stroke-width="1.3"/>
<line x1="236.60" y1="334.50" x2="241.60" y2="334.50" stroke="#111" stroke-width="1.7"/>
<rect x="243.25" y="332.00" width="8.3" height="129.30" fill="#11316e" stroke="#222" stroke-width="0.8"/>
<line x1="239.10" y1="461.3" x2="239.10" y2="465.3" stroke="#222" stroke-width="1.2"/>
<text x="238.60" y="480.00" font-size="13" font-weight="bold" text-anchor="middle" fill="#111">10</text>
<rect x="260.20" y="395.30" width="8.3" height="66.00" fill="#789150" stroke="#222" stroke-width="0.8"/>
<line x1="264.35" y1="390.50" x2="264.35" y2="395.30" stroke="#111" stroke-width="1.3"/>
<line x1="261.85" y1="390.50" x2="266.85" y2="390.50" stroke="#111" stroke-width="1.7"/>
<rect x="268.50" y="349.60" width="8.3" height="111.70" fill="#eebd69" stroke="#222" stroke-width="0.8"/>
<line x1="272.65" y1="346.40" x2="272.65" y2="349.60" stroke="#111" stroke-width="1.3"/>
<line x1="270.15" y1="346.40" x2="275.15" y2="346.40" stroke="#111" stroke-width="1.7"/>
<rect x="276.80" y="347.30" width="8.3" height="114.00" fill="#11316e" stroke="#222" stroke-width="0.8"/>
<line x1="280.95" y1="343.20" x2="280.95" y2="347.30" stroke="#111" stroke-width="1.3"/>
<line x1="278.45" y1="343.20" x2="283.45" y2="343.20" stroke="#111" stroke-width="1.7"/>
<line x1="272.65" y1="461.3" x2="272.65" y2="465.3" stroke="#222" stroke-width="1.2"/>
<text x="272.15" y="480.00" font-size="13" font-weight="bold" text-anchor="middle" fill="#111">20</text>
<rect x="302.05" y="359.20" width="8.3" height="102.10" fill="#eebd69" stroke="#222" stroke-width="0.8"/>
<line x1="306.20" y1="353.40" x2="306.20" y2="359.20" stroke="#111" stroke-width="1.3"/>
<line x1="303.70" y1="353.40" x2="308.70" y2="353.40" stroke="#111" stroke-width="1.7"/>
<rect x="310.35" y="358.20" width="8.3" height="103.10" fill="#11316e" stroke="#222" stroke-width="0.8"/>
<line x1="314.50" y1="354.40" x2="314.50" y2="358.20" stroke="#111" stroke-width="1.3"/>
<line x1="312.00" y1="354.40" x2="317.00" y2="354.40" stroke="#111" stroke-width="1.7"/>
<line x1="306.20" y1="461.3" x2="306.20" y2="465.3" stroke="#222" stroke-width="1.2"/>
<text x="305.70" y="480.00" font-size="13" font-weight="bold" text-anchor="middle" fill="#111">40</text>
<rect x="83.6" y="296.9" width="243.70000000000002" height="164.40000000000003" fill="none" stroke="#151515" stroke-width="1.7"/>
<line x1="79.6" y1="461.30" x2="83.6" y2="461.30" stroke="#111" stroke-width="1.6"/>
<line x1="80.8" y1="457.18" x2="83.6" y2="457.18" stroke="#111" stroke-width="0.9"/>
<line x1="80.8" y1="453.05" x2="83.6" y2="453.05" stroke="#111" stroke-width="0.9"/>
<line x1="80.6" y1="447.60" x2="83.6" y2="447.60" stroke="#111" stroke-width="1"/>
<line x1="80.8" y1="443.48" x2="83.6" y2="443.48" stroke="#111" stroke-width="0.9"/>
<line x1="80.8" y1="441.06" x2="83.6" y2="441.06" stroke="#111" stroke-width="0.9"/>
<line x1="80.8" y1="439.35" x2="83.6" y2="439.35" stroke="#111" stroke-width="0.9"/>
<line x1="80.8" y1="438.02" x2="83.6" y2="438.02" stroke="#111" stroke-width="0.9"/>
<line x1="80.8" y1="436.94" x2="83.6" y2="436.94" stroke="#111" stroke-width="0.9"/>
<line x1="80.8" y1="436.02" x2="83.6" y2="436.02" stroke="#111" stroke-width="0.9"/>
<line x1="80.8" y1="435.23" x2="83.6" y2="435.23" stroke="#111" stroke-width="0.9"/>
<line x1="80.8" y1="434.53" x2="83.6" y2="434.53" stroke="#111" stroke-width="0.9"/>
<line x1="79.6" y1="433.90" x2="83.6" y2="433.90" stroke="#111" stroke-width="1.6"/>
<line x1="80.8" y1="429.78" x2="83.6" y2="429.78" stroke="#111" stroke-width="0.9"/>
<line x1="80.8" y1="425.65" x2="83.6" y2="425.65" stroke="#111" stroke-width="0.9"/>
<line x1="80.6" y1="420.20" x2="83.6" y2="420.20" stroke="#111" stroke-width="1"/>
<line x1="80.8" y1="416.08" x2="83.6" y2="416.08" stroke="#111" stroke-width="0.9"/>
<line x1="80.8" y1="413.66" x2="83.6" y2="413.66" stroke="#111" stroke-width="0.9"/>
<line x1="80.8" y1="411.95" x2="83.6" y2="411.95" stroke="#111" stroke-width="0.9"/>
<line x1="80.8" y1="410.62" x2="83.6" y2="410.62" stroke="#111" stroke-width="0.9"/>
<line x1="80.8" y1="409.54" x2="83.6" y2="409.54" stroke="#111" stroke-width="0.9"/>
<line x1="80.8" y1="408.62" x2="83.6" y2="408.62" stroke="#111" stroke-width="0.9"/>
<line x1="80.8" y1="407.83" x2="83.6" y2="407.83" stroke="#111" stroke-width="0.9"/>
<line x1="80.8" y1="407.13" x2="83.6" y2="407.13" stroke="#111" stroke-width="0.9"/>
<line x1="79.6" y1="406.50" x2="83.6" y2="406.50" stroke="#111" stroke-width="1.6"/>
<line x1="80.8" y1="402.38" x2="83.6" y2="402.38" stroke="#111" stroke-width="0.9"/>
<line x1="80.8" y1="398.25" x2="83.6" y2="398.25" stroke="#111" stroke-width="0.9"/>
<line x1="80.6" y1="392.80" x2="83.6" y2="392.80" stroke="#111" stroke-width="1"/>
<line x1="80.8" y1="388.68" x2="83.6" y2="388.68" stroke="#111" stroke-width="0.9"/>
<line x1="80.8" y1="386.26" x2="83.6" y2="386.26" stroke="#111" stroke-width="0.9"/>
<line x1="80.8" y1="384.55" x2="83.6" y2="384.55" stroke="#111" stroke-width="0.9"/>
<line x1="80.8" y1="383.22" x2="83.6" y2="383.22" stroke="#111" stroke-width="0.9"/>
<line x1="80.8" y1="382.14" x2="83.6" y2="382.14" stroke="#111" stroke-width="0.9"/>
<line x1="80.8" y1="381.22" x2="83.6" y2="381.22" stroke="#111" stroke-width="0.9"/>
<line x1="80.8" y1="380.43" x2="83.6" y2="380.43" stroke="#111" stroke-width="0.9"/>
<line x1="80.8" y1="379.73" x2="83.6" y2="379.73" stroke="#111" stroke-width="0.9"/>
<line x1="79.6" y1="379.10" x2="83.6" y2="379.10" stroke="#111" stroke-width="1.6"/>
<line x1="80.8" y1="374.98" x2="83.6" y2="374.98" stroke="#111" stroke-width="0.9"/>
<line x1="80.8" y1="370.85" x2="83.6" y2="370.85" stroke="#111" stroke-width="0.9"/>
<line x1="80.6" y1="365.40" x2="83.6" y2="365.40" stroke="#111" stroke-width="1"/>
<line x1="80.8" y1="361.28" x2="83.6" y2="361.28" stroke="#111" stroke-width="0.9"/>
<line x1="80.8" y1="358.86" x2="83.6" y2="358.86" stroke="#111" stroke-width="0.9"/>
<line x1="80.8" y1="357.15" x2="83.6" y2="357.15" stroke="#111" stroke-width="0.9"/>
<line x1="80.8" y1="355.82" x2="83.6" y2="355.82" stroke="#111" stroke-width="0.9"/>
<line x1="80.8" y1="354.74" x2="83.6" y2="354.74" stroke="#111" stroke-width="0.9"/>
<line x1="80.8" y1="353.82" x2="83.6" y2="353.82" stroke="#111" stroke-width="0.9"/>
<line x1="80.8" y1="353.03" x2="83.6" y2="353.03" stroke="#111" stroke-width="0.9"/>
<line x1="80.8" y1="352.33" x2="83.6" y2="352.33" stroke="#111" stroke-width="0.9"/>
<line x1="79.6" y1="351.70" x2="83.6" y2="351.70" stroke="#111" stroke-width="1.6"/>
<line x1="80.8" y1="347.58" x2="83.6" y2="347.58" stroke="#111" stroke-width="0.9"/>
<line x1="80.8" y1="343.45" x2="83.6" y2="343.45" stroke="#111" stroke-width="0.9"/>
<line x1="80.6" y1="338.00" x2="83.6" y2="338.00" stroke="#111" stroke-width="1"/>
<line x1="80.8" y1="333.88" x2="83.6" y2="333.88" stroke="#111" stroke-width="0.9"/>
<line x1="80.8" y1="331.46" x2="83.6" y2="331.46" stroke="#111" stroke-width="0.9"/>
<line x1="80.8" y1="329.75" x2="83.6" y2="329.75" stroke="#111" stroke-width="0.9"/>
<line x1="80.8" y1="328.42" x2="83.6" y2="328.42" stroke="#111" stroke-width="0.9"/>
<line x1="80.8" y1="327.34" x2="83.6" y2="327.34" stroke="#111" stroke-width="0.9"/>
<line x1="80.8" y1="326.42" x2="83.6" y2="326.42" stroke="#111" stroke-width="0.9"/>
<line x1="80.8" y1="325.63" x2="83.6" y2="325.63" stroke="#111" stroke-width="0.9"/>
<line x1="80.8" y1="324.93" x2="83.6" y2="324.93" stroke="#111" stroke-width="0.9"/>
<line x1="79.6" y1="324.30" x2="83.6" y2="324.30" stroke="#111" stroke-width="1.6"/>
<line x1="80.8" y1="320.18" x2="83.6" y2="320.18" stroke="#111" stroke-width="0.9"/>
<line x1="80.8" y1="316.05" x2="83.6" y2="316.05" stroke="#111" stroke-width="0.9"/>
<line x1="80.6" y1="310.60" x2="83.6" y2="310.60" stroke="#111" stroke-width="1"/>
<line x1="80.8" y1="306.48" x2="83.6" y2="306.48" stroke="#111" stroke-width="0.9"/>
<line x1="80.8" y1="304.06" x2="83.6" y2="304.06" stroke="#111" stroke-width="0.9"/>
<line x1="80.8" y1="302.35" x2="83.6" y2="302.35" stroke="#111" stroke-width="0.9"/>
<line x1="80.8" y1="301.02" x2="83.6" y2="301.02" stroke="#111" stroke-width="0.9"/>
<line x1="80.8" y1="299.94" x2="83.6" y2="299.94" stroke="#111" stroke-width="0.9"/>
<line x1="80.8" y1="299.02" x2="83.6" y2="299.02" stroke="#111" stroke-width="0.9"/>
<line x1="80.8" y1="298.23" x2="83.6" y2="298.23" stroke="#111" stroke-width="0.9"/>
<line x1="80.8" y1="297.53" x2="83.6" y2="297.53" stroke="#111" stroke-width="0.9"/>
<line x1="79.6" y1="296.90" x2="83.6" y2="296.90" stroke="#111" stroke-width="1.6"/>
<text x="78.69999999999999" y="466.80" font-size="15" font-weight="bold" text-anchor="end" fill="#111">10<tspan dx="0.8" dy="-5.0" font-size="10">0</tspan></text>
<text x="78.69999999999999" y="439.40" font-size="15" font-weight="bold" text-anchor="end" fill="#111">10<tspan dx="0.8" dy="-5.0" font-size="10">2</tspan></text>
<text x="78.69999999999999" y="412.00" font-size="15" font-weight="bold" text-anchor="end" fill="#111">10<tspan dx="0.8" dy="-5.0" font-size="10">4</tspan></text>
<text x="78.69999999999999" y="384.60" font-size="15" font-weight="bold" text-anchor="end" fill="#111">10<tspan dx="0.8" dy="-5.0" font-size="10">6</tspan></text>
<text x="78.69999999999999" y="357.20" font-size="15" font-weight="bold" text-anchor="end" fill="#111">10<tspan dx="0.8" dy="-5.0" font-size="10">8</tspan></text>
<text x="78.69999999999999" y="329.80" font-size="15" font-weight="bold" text-anchor="end" fill="#111">10<tspan dx="0.8" dy="-5.0" font-size="10">10</tspan></text>
<text x="78.69999999999999" y="302.40" font-size="15" font-weight="bold" text-anchor="end" fill="#111">10<tspan dx="0.8" dy="-5.0" font-size="10">12</tspan></text>
<rect x="91.2" y="306.2" width="14.2" height="8.3" fill="#789150" stroke="#333" stroke-width="0.8"/>
<text x="112.5" y="314.40" font-size="10" fill="#333" stroke="#333" stroke-width="0.25">Planktonic</text>
<rect x="171.3" y="306.2" width="14.2" height="8.3" fill="#eebd69" stroke="#333" stroke-width="0.8"/>
<text x="192.6" y="314.40" font-size="10" fill="#333" stroke="#333" stroke-width="0.25">Biofilm</text>
<rect x="238" y="306.2" width="14.2" height="8.3" fill="#11316e" stroke="#333" stroke-width="0.8"/>
<text x="260" y="314.40" font-size="10" fill="#333" stroke="#333" stroke-width="0.25">Mixed Biofilm</text>
<text x="29.9" y="277.2" font-size="15.5" font-weight="bold" fill="#111">c<tspan font-size="18" dy="0">)</tspan></text>
<text x="163.7" y="505.4" font-size="12.5" font-weight="bold" fill="#111" textLength="82.7" lengthAdjust="spacingAndGlyphs">CHXD (µg/mL)</text>
<text transform="translate(35.8,371.7) rotate(-90)" font-size="12.5" font-weight="bold" text-anchor="middle" fill="#111">CFU/mL</text>
<line x1="418.5" y1="433.90" x2="659.8" y2="433.90" stroke="#e3e3e3" stroke-width="1"/>
<line x1="418.5" y1="406.50" x2="659.8" y2="406.50" stroke="#e3e3e3" stroke-width="1"/>
<line x1="418.5" y1="379.10" x2="659.8" y2="379.10" stroke="#e3e3e3" stroke-width="1"/>
<line x1="418.5" y1="351.70" x2="659.8" y2="351.70" stroke="#e3e3e3" stroke-width="1"/>
<line x1="418.5" y1="324.30" x2="659.8" y2="324.30" stroke="#e3e3e3" stroke-width="1"/>
<rect x="425.95" y="335.10" width="8.3" height="126.20" fill="#789150" stroke="#222" stroke-width="0.8"/>
<rect x="434.25" y="335.80" width="8.3" height="125.50" fill="#eebd69" stroke="#222" stroke-width="0.8"/>
<line x1="438.40" y1="334.50" x2="438.40" y2="335.80" stroke="#111" stroke-width="1.3"/>
<line x1="435.90" y1="334.50" x2="440.90" y2="334.50" stroke="#111" stroke-width="1.7"/>
<rect x="442.55" y="336.10" width="8.3" height="125.20" fill="#11316e" stroke="#222" stroke-width="0.8"/>
<line x1="438.40" y1="461.3" x2="438.40" y2="465.3" stroke="#222" stroke-width="1.2"/>
<text x="436.40" y="480.90" font-size="13" font-weight="bold" text-anchor="middle" fill="#111">Ctrl</text>
<rect x="459.50" y="332.90" width="8.3" height="128.40" fill="#789150" stroke="#222" stroke-width="0.8"/>
<rect x="467.80" y="335.80" width="8.3" height="125.50" fill="#eebd69" stroke="#222" stroke-width="0.8"/>
<line x1="471.95" y1="333.90" x2="471.95" y2="335.80" stroke="#111" stroke-width="1.3"/>
<line x1="469.45" y1="333.90" x2="474.45" y2="333.90" stroke="#111" stroke-width="1.7"/>
<rect x="476.10" y="339.00" width="8.3" height="122.30" fill="#11316e" stroke="#222" stroke-width="0.8"/>
<line x1="480.25" y1="335.10" x2="480.25" y2="339.00" stroke="#111" stroke-width="1.3"/>
<line x1="477.75" y1="335.10" x2="482.75" y2="335.10" stroke="#111" stroke-width="1.7"/>
<line x1="471.95" y1="461.3" x2="471.95" y2="465.3" stroke="#222" stroke-width="1.2"/>
<text x="471.95" y="480.90" font-size="13" font-weight="bold" text-anchor="middle" fill="#111">0.5</text>
<rect x="493.05" y="334.50" width="8.3" height="126.80" fill="#789150" stroke="#222" stroke-width="0.8"/>
<line x1="497.20" y1="332.90" x2="497.20" y2="334.50" stroke="#111" stroke-width="1.3"/>
<line x1="494.70" y1="332.90" x2="499.70" y2="332.90" stroke="#111" stroke-width="1.7"/>
<rect x="501.35" y="331.00" width="8.3" height="130.30" fill="#eebd69" stroke="#222" stroke-width="0.8"/>
<line x1="505.50" y1="329.40" x2="505.50" y2="331.00" stroke="#111" stroke-width="1.3"/>
<line x1="503.00" y1="329.40" x2="508.00" y2="329.40" stroke="#111" stroke-width="1.7"/>
<rect x="509.65" y="339.00" width="8.3" height="122.30" fill="#11316e" stroke="#222" stroke-width="0.8"/>
<line x1="513.80" y1="337.70" x2="513.80" y2="339.00" stroke="#111" stroke-width="1.3"/>
<line x1="511.30" y1="337.70" x2="516.30" y2="337.70" stroke="#111" stroke-width="1.7"/>
<line x1="505.50" y1="461.3" x2="505.50" y2="465.3" stroke="#222" stroke-width="1.2"/>
<text x="505.50" y="480.90" font-size="13" font-weight="bold" text-anchor="middle" fill="#111">0.6</text>
<rect x="526.60" y="331.30" width="8.3" height="130.00" fill="#789150" stroke="#222" stroke-width="0.8"/>
<line x1="530.75" y1="329.70" x2="530.75" y2="331.30" stroke="#111" stroke-width="1.3"/>
<line x1="528.25" y1="329.70" x2="533.25" y2="329.70" stroke="#111" stroke-width="1.7"/>
<rect x="534.90" y="334.50" width="8.3" height="126.80" fill="#eebd69" stroke="#222" stroke-width="0.8"/>
<line x1="539.05" y1="333.30" x2="539.05" y2="334.50" stroke="#111" stroke-width="1.3"/>
<line x1="536.55" y1="333.30" x2="541.55" y2="333.30" stroke="#111" stroke-width="1.7"/>
<rect x="543.20" y="339.00" width="8.3" height="122.30" fill="#11316e" stroke="#222" stroke-width="0.8"/>
<line x1="547.35" y1="337.70" x2="547.35" y2="339.00" stroke="#111" stroke-width="1.3"/>
<line x1="544.85" y1="337.70" x2="549.85" y2="337.70" stroke="#111" stroke-width="1.7"/>
<line x1="539.05" y1="461.3" x2="539.05" y2="465.3" stroke="#222" stroke-width="1.2"/>
<text x="539.05" y="480.90" font-size="13" font-weight="bold" text-anchor="middle" fill="#111">0.7</text>
<rect x="560.15" y="331.00" width="8.3" height="130.30" fill="#789150" stroke="#222" stroke-width="0.8"/>
<line x1="564.30" y1="329.70" x2="564.30" y2="331.00" stroke="#111" stroke-width="1.3"/>
<line x1="561.80" y1="329.70" x2="566.80" y2="329.70" stroke="#111" stroke-width="1.7"/>
<rect x="568.45" y="333.00" width="8.3" height="128.30" fill="#eebd69" stroke="#222" stroke-width="0.8"/>
<rect x="576.75" y="337.70" width="8.3" height="123.60" fill="#11316e" stroke="#222" stroke-width="0.8"/>
<line x1="572.60" y1="461.3" x2="572.60" y2="465.3" stroke="#222" stroke-width="1.2"/>
<text x="572.60" y="480.90" font-size="13" font-weight="bold" text-anchor="middle" fill="#111">0.8</text>
<rect x="593.70" y="333.60" width="8.3" height="127.70" fill="#789150" stroke="#222" stroke-width="0.8"/>
<line x1="597.85" y1="332.00" x2="597.85" y2="333.60" stroke="#111" stroke-width="1.3"/>
<line x1="595.35" y1="332.00" x2="600.35" y2="332.00" stroke="#111" stroke-width="1.7"/>
<rect x="602.00" y="332.00" width="8.3" height="129.30" fill="#eebd69" stroke="#222" stroke-width="0.8"/>
<line x1="606.15" y1="328.80" x2="606.15" y2="332.00" stroke="#111" stroke-width="1.3"/>
<line x1="603.65" y1="328.80" x2="608.65" y2="328.80" stroke="#111" stroke-width="1.7"/>
<rect x="610.30" y="336.80" width="8.3" height="124.50" fill="#11316e" stroke="#222" stroke-width="0.8"/>
<line x1="614.45" y1="336.00" x2="614.45" y2="336.80" stroke="#111" stroke-width="1.3"/>
<line x1="611.95" y1="336.00" x2="616.95" y2="336.00" stroke="#111" stroke-width="1.7"/>
<line x1="606.15" y1="461.3" x2="606.15" y2="465.3" stroke="#222" stroke-width="1.2"/>
<text x="606.15" y="480.90" font-size="13" font-weight="bold" text-anchor="middle" fill="#111">0.9</text>
<rect x="627.25" y="335.20" width="8.3" height="126.10" fill="#789150" stroke="#222" stroke-width="0.8"/>
<rect x="635.55" y="331.30" width="8.3" height="130.00" fill="#eebd69" stroke="#222" stroke-width="0.8"/>
<line x1="639.70" y1="329.70" x2="639.70" y2="331.30" stroke="#111" stroke-width="1.3"/>
<line x1="637.20" y1="329.70" x2="642.20" y2="329.70" stroke="#111" stroke-width="1.7"/>
<rect x="643.85" y="340.00" width="8.3" height="121.30" fill="#11316e" stroke="#222" stroke-width="0.8"/>
<line x1="648.00" y1="337.40" x2="648.00" y2="340.00" stroke="#111" stroke-width="1.3"/>
<line x1="645.50" y1="337.40" x2="650.50" y2="337.40" stroke="#111" stroke-width="1.7"/>
<line x1="639.70" y1="461.3" x2="639.70" y2="465.3" stroke="#222" stroke-width="1.2"/>
<text x="639.70" y="480.90" font-size="13" font-weight="bold" text-anchor="middle" fill="#111">1</text>
<rect x="417.5" y="296.9" width="243.29999999999995" height="164.40000000000003" fill="none" stroke="#151515" stroke-width="1.7"/>
<line x1="413.5" y1="461.30" x2="417.5" y2="461.30" stroke="#111" stroke-width="1.6"/>
<line x1="414.7" y1="457.18" x2="417.5" y2="457.18" stroke="#111" stroke-width="0.9"/>
<line x1="414.7" y1="453.05" x2="417.5" y2="453.05" stroke="#111" stroke-width="0.9"/>
<line x1="414.5" y1="447.60" x2="417.5" y2="447.60" stroke="#111" stroke-width="1"/>
<line x1="414.7" y1="443.48" x2="417.5" y2="443.48" stroke="#111" stroke-width="0.9"/>
<line x1="414.7" y1="441.06" x2="417.5" y2="441.06" stroke="#111" stroke-width="0.9"/>
<line x1="414.7" y1="439.35" x2="417.5" y2="439.35" stroke="#111" stroke-width="0.9"/>
<line x1="414.7" y1="438.02" x2="417.5" y2="438.02" stroke="#111" stroke-width="0.9"/>
<line x1="414.7" y1="436.94" x2="417.5" y2="436.94" stroke="#111" stroke-width="0.9"/>
<line x1="414.7" y1="436.02" x2="417.5" y2="436.02" stroke="#111" stroke-width="0.9"/>
<line x1="414.7" y1="435.23" x2="417.5" y2="435.23" stroke="#111" stroke-width="0.9"/>
<line x1="414.7" y1="434.53" x2="417.5" y2="434.53" stroke="#111" stroke-width="0.9"/>
<line x1="413.5" y1="433.90" x2="417.5" y2="433.90" stroke="#111" stroke-width="1.6"/>
<line x1="414.7" y1="429.78" x2="417.5" y2="429.78" stroke="#111" stroke-width="0.9"/>
<line x1="414.7" y1="425.65" x2="417.5" y2="425.65" stroke="#111" stroke-width="0.9"/>
<line x1="414.5" y1="420.20" x2="417.5" y2="420.20" stroke="#111" stroke-width="1"/>
<line x1="414.7" y1="416.08" x2="417.5" y2="416.08" stroke="#111" stroke-width="0.9"/>
<line x1="414.7" y1="413.66" x2="417.5" y2="413.66" stroke="#111" stroke-width="0.9"/>
<line x1="414.7" y1="411.95" x2="417.5" y2="411.95" stroke="#111" stroke-width="0.9"/>
<line x1="414.7" y1="410.62" x2="417.5" y2="410.62" stroke="#111" stroke-width="0.9"/>
<line x1="414.7" y1="409.54" x2="417.5" y2="409.54" stroke="#111" stroke-width="0.9"/>
<line x1="414.7" y1="408.62" x2="417.5" y2="408.62" stroke="#111" stroke-width="0.9"/>
<line x1="414.7" y1="407.83" x2="417.5" y2="407.83" stroke="#111" stroke-width="0.9"/>
<line x1="414.7" y1="407.13" x2="417.5" y2="407.13" stroke="#111" stroke-width="0.9"/>
<line x1="413.5" y1="406.50" x2="417.5" y2="406.50" stroke="#111" stroke-width="1.6"/>
<line x1="414.7" y1="402.38" x2="417.5" y2="402.38" stroke="#111" stroke-width="0.9"/>
<line x1="414.7" y1="398.25" x2="417.5" y2="398.25" stroke="#111" stroke-width="0.9"/>
<line x1="414.5" y1="392.80" x2="417.5" y2="392.80" stroke="#111" stroke-width="1"/>
<line x1="414.7" y1="388.68" x2="417.5" y2="388.68" stroke="#111" stroke-width="0.9"/>
<line x1="414.7" y1="386.26" x2="417.5" y2="386.26" stroke="#111" stroke-width="0.9"/>
<line x1="414.7" y1="384.55" x2="417.5" y2="384.55" stroke="#111" stroke-width="0.9"/>
<line x1="414.7" y1="383.22" x2="417.5" y2="383.22" stroke="#111" stroke-width="0.9"/>
<line x1="414.7" y1="382.14" x2="417.5" y2="382.14" stroke="#111" stroke-width="0.9"/>
<line x1="414.7" y1="381.22" x2="417.5" y2="381.22" stroke="#111" stroke-width="0.9"/>
<line x1="414.7" y1="380.43" x2="417.5" y2="380.43" stroke="#111" stroke-width="0.9"/>
<line x1="414.7" y1="379.73" x2="417.5" y2="379.73" stroke="#111" stroke-width="0.9"/>
<line x1="413.5" y1="379.10" x2="417.5" y2="379.10" stroke="#111" stroke-width="1.6"/>
<line x1="414.7" y1="374.98" x2="417.5" y2="374.98" stroke="#111" stroke-width="0.9"/>
<line x1="414.7" y1="370.85" x2="417.5" y2="370.85" stroke="#111" stroke-width="0.9"/>
<line x1="414.5" y1="365.40" x2="417.5" y2="365.40" stroke="#111" stroke-width="1"/>
<line x1="414.7" y1="361.28" x2="417.5" y2="361.28" stroke="#111" stroke-width="0.9"/>
<line x1="414.7" y1="358.86" x2="417.5" y2="358.86" stroke="#111" stroke-width="0.9"/>
<line x1="414.7" y1="357.15" x2="417.5" y2="357.15" stroke="#111" stroke-width="0.9"/>
<line x1="414.7" y1="355.82" x2="417.5" y2="355.82" stroke="#111" stroke-width="0.9"/>
<line x1="414.7" y1="354.74" x2="417.5" y2="354.74" stroke="#111" stroke-width="0.9"/>
<line x1="414.7" y1="353.82" x2="417.5" y2="353.82" stroke="#111" stroke-width="0.9"/>
<line x1="414.7" y1="353.03" x2="417.5" y2="353.03" stroke="#111" stroke-width="0.9"/>
<line x1="414.7" y1="352.33" x2="417.5" y2="352.33" stroke="#111" stroke-width="0.9"/>
<line x1="413.5" y1="351.70" x2="417.5" y2="351.70" stroke="#111" stroke-width="1.6"/>
<line x1="414.7" y1="347.58" x2="417.5" y2="347.58" stroke="#111" stroke-width="0.9"/>
<line x1="414.7" y1="343.45" x2="417.5" y2="343.45" stroke="#111" stroke-width="0.9"/>
<line x1="414.5" y1="338.00" x2="417.5" y2="338.00" stroke="#111" stroke-width="1"/>
<line x1="414.7" y1="333.88" x2="417.5" y2="333.88" stroke="#111" stroke-width="0.9"/>
<line x1="414.7" y1="331.46" x2="417.5" y2="331.46" stroke="#111" stroke-width="0.9"/>
<line x1="414.7" y1="329.75" x2="417.5" y2="329.75" stroke="#111" stroke-width="0.9"/>
<line x1="414.7" y1="328.42" x2="417.5" y2="328.42" stroke="#111" stroke-width="0.9"/>
<line x1="414.7" y1="327.34" x2="417.5" y2="327.34" stroke="#111" stroke-width="0.9"/>
<line x1="414.7" y1="326.42" x2="417.5" y2="326.42" stroke="#111" stroke-width="0.9"/>
<line x1="414.7" y1="325.63" x2="417.5" y2="325.63" stroke="#111" stroke-width="0.9"/>
<line x1="414.7" y1="324.93" x2="417.5" y2="324.93" stroke="#111" stroke-width="0.9"/>
<line x1="413.5" y1="324.30" x2="417.5" y2="324.30" stroke="#111" stroke-width="1.6"/>
<line x1="414.7" y1="320.18" x2="417.5" y2="320.18" stroke="#111" stroke-width="0.9"/>
<line x1="414.7" y1="316.05" x2="417.5" y2="316.05" stroke="#111" stroke-width="0.9"/>
<line x1="414.5" y1="310.60" x2="417.5" y2="310.60" stroke="#111" stroke-width="1"/>
<line x1="414.7" y1="306.48" x2="417.5" y2="306.48" stroke="#111" stroke-width="0.9"/>
<line x1="414.7" y1="304.06" x2="417.5" y2="304.06" stroke="#111" stroke-width="0.9"/>
<line x1="414.7" y1="302.35" x2="417.5" y2="302.35" stroke="#111" stroke-width="0.9"/>
<line x1="414.7" y1="301.02" x2="417.5" y2="301.02" stroke="#111" stroke-width="0.9"/>
<line x1="414.7" y1="299.94" x2="417.5" y2="299.94" stroke="#111" stroke-width="0.9"/>
<line x1="414.7" y1="299.02" x2="417.5" y2="299.02" stroke="#111" stroke-width="0.9"/>
<line x1="414.7" y1="298.23" x2="417.5" y2="298.23" stroke="#111" stroke-width="0.9"/>
<line x1="414.7" y1="297.53" x2="417.5" y2="297.53" stroke="#111" stroke-width="0.9"/>
<line x1="413.5" y1="296.90" x2="417.5" y2="296.90" stroke="#111" stroke-width="1.6"/>
<text x="412.6" y="466.80" font-size="15" font-weight="bold" text-anchor="end" fill="#111">10<tspan dx="0.8" dy="-5.0" font-size="10">0</tspan></text>
<text x="412.6" y="439.40" font-size="15" font-weight="bold" text-anchor="end" fill="#111">10<tspan dx="0.8" dy="-5.0" font-size="10">2</tspan></text>
<text x="412.6" y="412.00" font-size="15" font-weight="bold" text-anchor="end" fill="#111">10<tspan dx="0.8" dy="-5.0" font-size="10">4</tspan></text>
<text x="412.6" y="384.60" font-size="15" font-weight="bold" text-anchor="end" fill="#111">10<tspan dx="0.8" dy="-5.0" font-size="10">6</tspan></text>
<text x="412.6" y="357.20" font-size="15" font-weight="bold" text-anchor="end" fill="#111">10<tspan dx="0.8" dy="-5.0" font-size="10">8</tspan></text>
<text x="412.6" y="329.80" font-size="15" font-weight="bold" text-anchor="end" fill="#111">10<tspan dx="0.8" dy="-5.0" font-size="10">10</tspan></text>
<text x="412.6" y="302.40" font-size="15" font-weight="bold" text-anchor="end" fill="#111">10<tspan dx="0.8" dy="-5.0" font-size="10">12</tspan></text>
<rect x="424.6" y="306.2" width="14.2" height="8.3" fill="#789150" stroke="#333" stroke-width="0.8"/>
<text x="445.8" y="314.40" font-size="10" fill="#333" stroke="#333" stroke-width="0.25">Planktonic</text>
<rect x="505.3" y="306.2" width="14.2" height="8.3" fill="#eebd69" stroke="#333" stroke-width="0.8"/>
<text x="527.1" y="314.40" font-size="10" fill="#333" stroke="#333" stroke-width="0.25">Biofilm</text>
<rect x="571.8" y="306.2" width="14.2" height="8.3" fill="#11316e" stroke="#333" stroke-width="0.8"/>
<text x="593.5" y="314.40" font-size="10" fill="#333" stroke="#333" stroke-width="0.25">Mixed Biofilm</text>
<text x="363.4" y="277.2" font-size="15.5" font-weight="bold" fill="#111">d<tspan font-size="18" dy="0">)</tspan></text>
<text x="501" y="505.4" font-size="12.5" font-weight="bold" fill="#111" textLength="75.4" lengthAdjust="spacingAndGlyphs">THY (mg/mL)</text>
<text transform="translate(370.5,371.7) rotate(-90)" font-size="12.5" font-weight="bold" text-anchor="middle" fill="#111">CFU/mL</text>
</g>
</svg></div></body></html>
